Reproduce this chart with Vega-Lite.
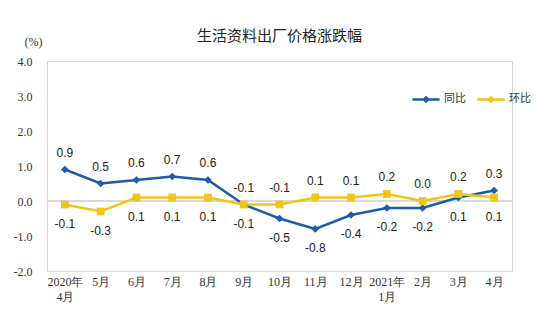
{
  "$schema": "https://vega.github.io/schema/vega-lite/v6.json",
  "width": 465,
  "height": 210,
  "autosize": {"type": "none"},
  "padding": {"left": 47, "top": 61, "right": 42, "bottom": 55},
  "background": "white",
  "title": {"text": "生活资料出厂价格涨跌幅", "font": "Noto Sans CJK SC", "fontSize": 15, "fontWeight": "normal", "color": "#222", "anchor": "middle", "offset": -9},
  "config": {
    "locale": {"number": {"decimal": ".", "thousands": ",", "grouping": [3], "currency": ["$", ""], "minus": "-"}},
    "view": {"stroke": "#d9d9d9", "strokeWidth": 1}
  },
  "data": {"values": [
    {"month": "2020年 4月", "series": "同比", "value": 0.9},
    {"month": "5月", "series": "同比", "value": 0.5},
    {"month": "6月", "series": "同比", "value": 0.6},
    {"month": "7月", "series": "同比", "value": 0.7},
    {"month": "8月", "series": "同比", "value": 0.6},
    {"month": "9月", "series": "同比", "value": -0.1},
    {"month": "10月", "series": "同比", "value": -0.5},
    {"month": "11月", "series": "同比", "value": -0.8},
    {"month": "12月", "series": "同比", "value": -0.4},
    {"month": "2021年 1月", "series": "同比", "value": -0.2},
    {"month": "2月", "series": "同比", "value": -0.2},
    {"month": "3月", "series": "同比", "value": 0.1},
    {"month": "4月", "series": "同比", "value": 0.3},
    {"month": "2020年 4月", "series": "环比", "value": -0.1},
    {"month": "5月", "series": "环比", "value": -0.3},
    {"month": "6月", "series": "环比", "value": 0.1},
    {"month": "7月", "series": "环比", "value": 0.1},
    {"month": "8月", "series": "环比", "value": 0.1},
    {"month": "9月", "series": "环比", "value": -0.1},
    {"month": "10月", "series": "环比", "value": -0.1},
    {"month": "11月", "series": "环比", "value": 0.1},
    {"month": "12月", "series": "环比", "value": 0.1},
    {"month": "2021年 1月", "series": "环比", "value": 0.2},
    {"month": "2月", "series": "环比", "value": 0.0},
    {"month": "3月", "series": "环比", "value": 0.2},
    {"month": "4月", "series": "环比", "value": 0.1}
  ]},
  "encoding": {
    "x": {
      "field": "month", "type": "ordinal", "sort": null,
      "scale": {"type": "point", "padding": 0.5},
      "axis": {"title": null, "domain": false, "ticks": false, "labelAngle": 0, "labelExpr": "split(datum.value, ' ')", "labelFont": "Liberation Serif", "labelFontSize": 12, "labelColor": "#333", "labelPadding": 5, "labelLineHeight": 15}
    },
    "y": {
      "field": "value", "type": "quantitative",
      "scale": {"domain": [-2, 4], "nice": false, "zero": false},
      "axis": {"title": "(%)", "titleAngle": 0, "titleX": -14, "titleY": -20, "titleAlign": "center", "titleBaseline": "middle", "titleFont": "Liberation Serif", "titleFontSize": 12, "titleFontWeight": "normal", "titleColor": "#333", "values": [-2, -1, 0, 1, 2, 3, 4], "format": ".1f", "domain": false, "ticks": false, "grid": false, "labelFont": "Liberation Serif", "labelFontSize": 12, "labelColor": "#333", "labelPadding": 15}
    }
  },
  "layer": [
    {
      "mark": {"type": "rule", "color": "#d9d9d9", "strokeWidth": 1},
      "encoding": {"y": {"datum": 0}, "x": null}
    },
    {
      "mark": {"type": "line", "strokeWidth": 2.5},
      "encoding": {
        "color": {
          "field": "series", "type": "nominal", "sort": ["同比", "环比"],
          "scale": {"domain": ["同比", "环比"], "range": ["#1c5ca8", "#f2c419"]},
          "legend": {"title": null, "orient": "none", "legendX": 364, "legendY": 23, "direction": "horizontal", "labelFont": "Noto Sans CJK SC", "labelFontSize": 11, "labelColor": "#333", "columnPadding": 6, "labelOffset": 3, "symbolType": "M-1,0H1M0,-0.15L0.15,0L0,0.15L-0.15,0Z", "symbolSize": 740, "symbolStrokeWidth": 2.5}
        }
      }
    },
    {
      "mark": {"type": "point", "filled": true, "opacity": 1, "size": 60},
      "encoding": {
        "fill": {"condition": {"test": "datum.series == '同比'", "value": "#1c5ca8"}, "value": "#f2c419"},
        "shape": {"condition": {"test": "datum.series == '同比'", "value": "diamond"}, "value": "square"}
      }
    },
    {
      "transform": [
        {"window": [{"op": "row_number", "as": "rank"}], "groupby": ["month"], "sort": [{"field": "value", "order": "descending"}, {"field": "series", "order": "descending"}]},
        {"filter": "datum.rank == 1"}
      ],
      "mark": {"type": "text", "dy": -17, "font": "Liberation Sans", "fontSize": 12, "color": "#222"},
      "encoding": {"text": {"field": "value", "type": "quantitative", "format": ".1f"}}
    },
    {
      "transform": [
        {"window": [{"op": "row_number", "as": "rank"}], "groupby": ["month"], "sort": [{"field": "value", "order": "descending"}, {"field": "series", "order": "descending"}]},
        {"filter": "datum.rank == 2"}
      ],
      "mark": {"type": "text", "dy": 19, "font": "Liberation Sans", "fontSize": 12, "color": "#222"},
      "encoding": {"text": {"field": "value", "type": "quantitative", "format": ".1f"}}
    }
  ]
}
